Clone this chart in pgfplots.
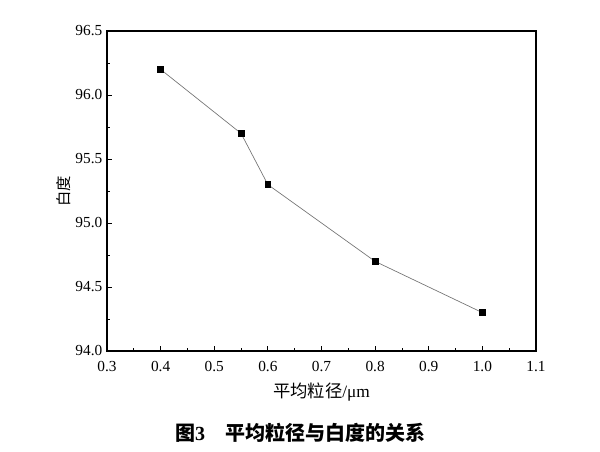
\documentclass[border=0pt]{standalone}
\usepackage{pgfplots}
\pgfplotsset{compat=1.18}
\usepackage{fontspec}
\setmainfont{Liberation Serif}
\newfontfamily\cjk{Noto Sans CJK SC}
\begin{document}
\begin{tikzpicture}[x=0.75pt,y=0.75pt]
\useasboundingbox (-107,-100) rectangle (493,351);
\begin{axis}[
    width=321.75pt, height=240pt, scale only axis,
    xmin=0.3, xmax=1.1, ymin=94.0, ymax=96.5,
    xtick={0.3,0.4,...,1.1}, ytick={94.0,94.5,...,96.5},
    minor tick num=1,
    tick align=inside, xtick pos=bottom, ytick pos=left,
    major tick length=4pt, minor tick length=2pt,
    every tick/.style={black, line width=0.6pt},
    axis line style={line width=0.8pt},
    /pgf/number format/fixed,
    /pgf/number format/fixed zerofill,
    /pgf/number format/precision=1,
    /pgf/number format/assume math mode=true,
    tick label style={font=\fontsize{11.5}{13}\selectfont},
    xticklabel style={yshift=-4pt},
    xlabel={{\cjk 平均粒径}/μm},
    ylabel={\cjk 白度},
    xlabel style={font=\fontsize{13}{15}\selectfont, yshift=-2pt},
    ylabel style={font=\fontsize{11.5}{13}\selectfont, yshift=-3pt},
]
\addplot[gray!90!black, line width=0.5pt, mark=square*, mark size=2.2pt,
    mark options={black, fill=black}]
    coordinates {
    (0.4,96.2)
    (0.55,95.7)
    (0.6,95.3)
    (0.8,94.7)
    (1.0,94.3)
    };
\end{axis}
\node[font=\fontsize{15}{17}\selectfont] at (193,-82) {{\cjk\bfseries 图}\textbf{3}\quad{\cjk\bfseries 平均粒径与白度的关系}};
\end{tikzpicture}
\end{document}
